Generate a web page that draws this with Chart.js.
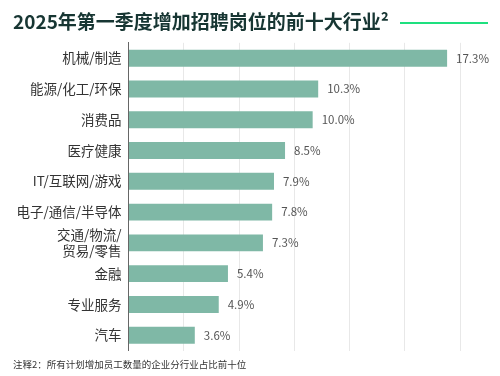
<!DOCTYPE html>
<html>
<head>
<meta charset="utf-8">
<script src="https://cdn.jsdelivr.net/npm/chart.js@4"></script>
<style>
  html, body { margin: 0; padding: 0; background: #fff; }
  #wrap { width: 500px; height: 376px; }
</style>
</head>
<body>
<div id="wrap"><canvas id="grafica"></canvas></div>
<script>
// datos
const industrias = [
    '机械/制造', '能源/化工/环保', '消费品', '医疗健康', 'IT/互联网/游戏',
    '电子/通信/半导体', ['交通/物流/', '贸易/零售'], '金融', '专业服务', '汽车'
];
const porcentajes = [17.3, 10.3, 10.0, 8.5, 7.9, 7.8, 7.3, 5.4, 4.9, 3.6];
const ticksX = [0, 3, 6, 9, 12, 15, 18];

const fuente = '"Noto Sans CJK SC", "Noto Sans", sans-serif';

// etiqueta de valor a la derecha de cada barra
const etiquetas = {
    id: 'etiquetas',
    afterDatasetsDraw(chart) {
        const ctx = chart.ctx;
        const meta = chart.getDatasetMeta(0);
        ctx.save();
        ctx.font = '11.5px ' + fuente;
        ctx.fillStyle = '#555';
        ctx.textBaseline = 'middle';
        meta.data.forEach((bar, i) => {
            ctx.fillText(porcentajes[i].toFixed(1) + '%', bar.x + 9, bar.y);
        });
        ctx.restore();
    }
};

// línea verde junto al título
const lineaTitulo = {
    id: 'lineaTitulo',
    afterDraw(chart) {
        const ctx = chart.ctx;
        ctx.save();
        ctx.strokeStyle = '#1ee07f';
        ctx.lineWidth = 2;
        ctx.beginPath();
        ctx.moveTo(400, 23);
        ctx.lineTo(488, 23);
        ctx.stroke();
        ctx.restore();
    }
};

const ctx = document.getElementById('grafica').getContext('2d');
new Chart(ctx, {
    type: 'bar',
    data: {
        labels: industrias,
        datasets: [{
            data: porcentajes,
            backgroundColor: '#7fb8a6',
            borderWidth: 0,
            barPercentage: 0.55,
            categoryPercentage: 1.0
        }]
    },
    options: {
        indexAxis: 'y',
        responsive: true,
        maintainAspectRatio: false,
        animation: false,
        layout: { padding: { left: 13, right: 40, top: 0, bottom: 0 } },
        scales: {
            x: {
                min: 0,
                max: 18,
                afterBuildTicks: axis => { axis.ticks = ticksX.map(v => ({ value: v })); },
                ticks: { display: false },
                grid: { color: '#e8e8e8', drawTicks: false },
                border: { display: false }
            },
            y: {
                afterFit: axis => { axis.width = 115.5; },
                ticks: {
                    autoSkip: false,
                    color: '#333',
                    font: { size: 13.5, family: fuente },
                    padding: 7
                },
                grid: { display: false, drawTicks: false },
                border: { color: '#666', width: 1 }
            }
        },
        plugins: {
            legend: { display: false },
            tooltip: { enabled: false },
            title: {
                display: true,
                text: '2025年第一季度增加招聘岗位的前十大行业²',
                align: 'start',
                color: '#173633',
                font: { size: 19, weight: 'bold', family: fuente },
                padding: { top: 10, bottom: 10 }
            },
            subtitle: {
                display: true,
                position: 'bottom',
                text: '注释2：所有计划增加员工数量的企业分行业占比前十位',
                align: 'start',
                color: '#333',
                font: { size: 9.5, family: fuente },
                padding: { top: 8, bottom: 6 }
            }
        }
    },
    plugins: [etiquetas, lineaTitulo]
});
</script>
</body>
</html>
